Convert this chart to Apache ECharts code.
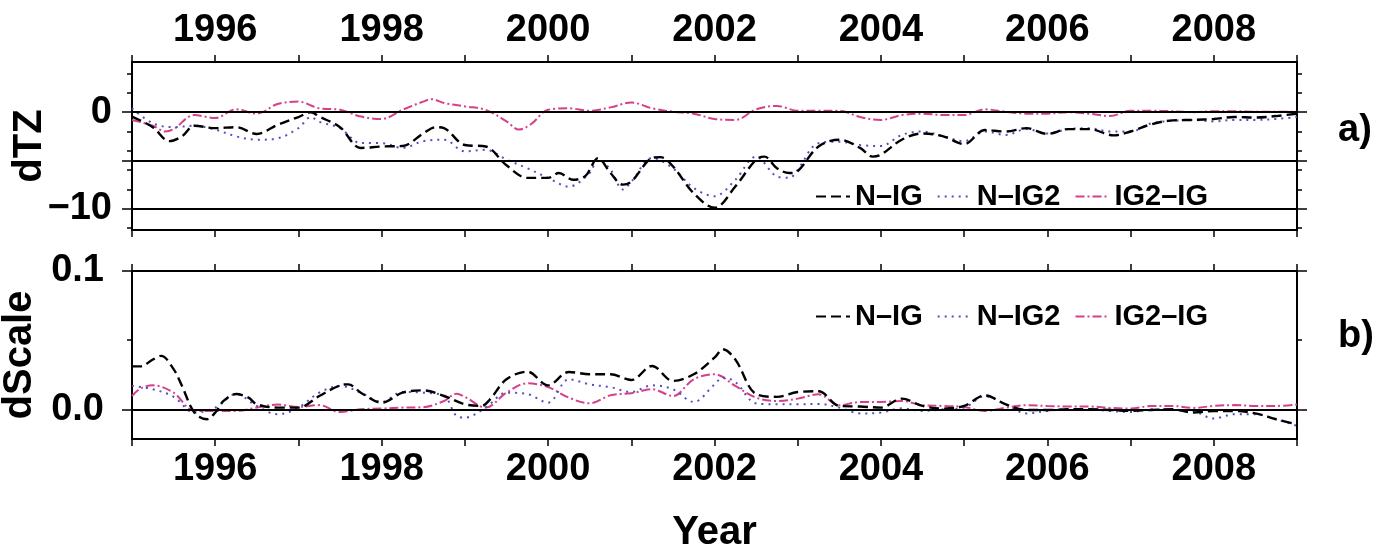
<!DOCTYPE html>
<html><head><meta charset="utf-8">
<script src="https://cdn.jsdelivr.net/npm/echarts@6/dist/echarts.min.js"></script>
<style>html,body{margin:0;padding:0;background:#fff}#c{width:1379px;height:546px}</style>
</head><body><div id="c"></div>
<script>
// ---- data (year, value) ----
const seriesNames = ['N–IG', 'N–IG2', 'IG2–IG'];
const xTickYears = [1995,1996,1997,1998,1999,2000,2001,2002,2003,2004,2005,2006,2007,2008,2009];
const xLabelYears = [1996,1998,2000,2002,2004,2006,2008];
const dtzTickLabels = [0, -10];
const dscaleTickLabels = [0, 0.1];

const dtzNIG = [[1995.0,-0.45],[1995.25,-1.55],[1995.45,-3.0],[1995.6,-2.5],[1995.75,-1.4],[1996.0,-1.65],[1996.25,-1.55],[1996.5,-2.25],[1996.75,-1.3],[1997.0,-0.5],[1997.15,0],[1997.25,-0.45],[1997.5,-1.55],[1997.75,-3.7],[1998.0,-3.55],[1998.25,-3.5],[1998.5,-2.2],[1998.65,-1.55],[1998.75,-1.65],[1999.0,-3.4],[1999.25,-3.55],[1999.5,-5.5],[1999.75,-6.8],[2000.0,-6.8],[2000.13,-6.3],[2000.3,-7.0],[2000.45,-6.6],[2000.6,-4.75],[2000.75,-6.3],[2000.9,-7.5],[2001.0,-7.2],[2001.25,-4.75],[2001.35,-4.65],[2001.5,-5.6],[2001.75,-8.4],[2002.0,-9.9],[2002.25,-7.7],[2002.5,-4.9],[2002.6,-4.6],[2002.75,-5.8],[2002.9,-6.3],[2003.0,-6.1],[2003.25,-3.55],[2003.5,-2.85],[2003.75,-3.7],[2003.9,-4.6],[2004.0,-4.4],[2004.25,-2.85],[2004.5,-2.2],[2004.75,-2.5],[2005.0,-3.3],[2005.25,-1.85],[2005.5,-2.0],[2005.75,-1.65],[2006.0,-2.25],[2006.25,-1.75],[2006.5,-1.75],[2006.8,-2.4],[2007.0,-2.0],[2007.25,-1.25],[2007.5,-0.85],[2007.75,-0.8],[2008.0,-0.7],[2008.25,-0.5],[2008.5,-0.55],[2008.75,-0.4],[2009.0,-0.15]];
const dtzNIG2 = [[1995.0,0.4],[1995.25,-1.15],[1995.5,-1.55],[1995.75,-1.4],[1996.0,-1.8],[1996.25,-2.5],[1996.5,-2.85],[1996.75,-2.7],[1997.0,-1.65],[1997.15,-0.5],[1997.25,-1.0],[1997.5,-1.65],[1997.75,-3.2],[1998.0,-3.2],[1998.25,-3.7],[1998.5,-3.0],[1998.75,-2.85],[1999.0,-4.05],[1999.25,-3.9],[1999.5,-4.9],[1999.75,-5.8],[2000.0,-6.8],[2000.25,-7.7],[2000.5,-6.3],[2000.6,-4.9],[2000.75,-5.95],[2000.9,-8.0],[2001.0,-7.2],[2001.25,-4.75],[2001.5,-5.8],[2001.75,-7.85],[2002.0,-8.7],[2002.25,-7.0],[2002.5,-4.6],[2002.75,-6.65],[2002.9,-6.8],[2003.0,-5.95],[2003.25,-3.2],[2003.5,-3.05],[2003.75,-3.4],[2004.0,-3.5],[2004.25,-2.35],[2004.5,-2.0],[2004.75,-2.5],[2005.0,-3.0],[2005.25,-2.0],[2005.5,-2.35],[2005.75,-1.75],[2006.0,-2.2],[2006.25,-1.75],[2006.5,-1.65],[2006.75,-2.0],[2007.0,-2.0],[2007.25,-1.15],[2007.5,-0.9],[2007.75,-0.8],[2008.0,-0.95],[2008.25,-0.8],[2008.5,-0.8],[2008.75,-0.7],[2009.0,-0.5]];
const dtzIG2IG = [[1995.0,-0.8],[1995.25,-1.4],[1995.4,-2.0],[1995.5,-1.75],[1995.75,-0.3],[1996.0,-0.6],[1996.25,0.3],[1996.5,-0.15],[1996.75,0.85],[1997.0,1.1],[1997.25,0.4],[1997.5,0.25],[1997.75,-0.45],[1998.0,-0.7],[1998.25,0.25],[1998.5,1.1],[1998.6,1.35],[1998.75,0.95],[1999.0,0.6],[1999.25,0.25],[1999.5,-0.95],[1999.65,-1.8],[1999.8,-1.2],[2000.0,0.25],[2000.25,0.4],[2000.5,0.15],[2000.75,0.5],[2001.0,1.0],[2001.25,0.4],[2001.5,0.05],[2001.75,-0.15],[2002.0,-0.7],[2002.25,-0.8],[2002.5,0.3],[2002.75,0.65],[2003.0,0.15],[2003.25,0.15],[2003.5,0.15],[2003.75,-0.5],[2004.0,-0.8],[2004.25,-0.3],[2004.5,-0.15],[2004.75,-0.3],[2005.0,-0.3],[2005.25,0.3],[2005.5,0.05],[2005.75,-0.15],[2006.0,-0.15],[2006.25,0.0],[2006.5,-0.15],[2006.75,-0.4],[2007.0,0.15],[2007.25,0.15],[2007.5,0.1],[2007.75,0.0],[2008.0,0.1],[2008.25,0.1],[2008.5,0.05],[2008.75,0.05],[2009.0,0.05]];

const dsNIG = [[1995.0,0.031],[1995.1,0.031],[1995.25,0.036],[1995.35,0.0386],[1995.5,0.029],[1995.6,0.017],[1995.75,-0.0024],[1995.9,-0.0072],[1996.0,-0.0024],[1996.1,0.006],[1996.25,0.011],[1996.4,0.0084],[1996.5,0.0036],[1996.75,0.0012],[1997.0,0.0012],[1997.25,0.0096],[1997.5,0.0173],[1997.6,0.018],[1997.75,0.012],[1998.0,0.0048],[1998.25,0.012],[1998.5,0.0137],[1998.75,0.0096],[1999.0,0.0036],[1999.2,0.0024],[1999.3,0.007],[1999.5,0.0217],[1999.75,0.0272],[2000.0,0.0173],[2000.25,0.027],[2000.5,0.0253],[2000.75,0.0253],[2001.0,0.0212],[2001.25,0.0313],[2001.5,0.0205],[2001.75,0.0253],[2002.0,0.0373],[2002.1,0.0434],[2002.25,0.036],[2002.5,0.011],[2002.75,0.009],[2003.0,0.0125],[2003.25,0.013],[2003.5,0.0024],[2003.75,0.002],[2004.0,0.0012],[2004.25,0.0077],[2004.5,0.0024],[2004.75,0.0005],[2005.0,0.0024],[2005.25,0.010],[2005.5,0.0036],[2005.75,-0.0005],[2006.0,-0.0005],[2006.25,0.0],[2006.5,0.0],[2006.75,-0.0005],[2007.0,-0.0012],[2007.25,-0.0005],[2007.5,0.0],[2007.75,-0.0024],[2008.0,-0.0012],[2008.25,-0.0012],[2008.5,-0.003],[2008.75,-0.0072],[2009.0,-0.011]];
const dsNIG2 = [[1995.0,0.0169],[1995.25,0.0145],[1995.5,0.009],[1995.75,-0.0024],[1996.0,0.0012],[1996.25,0.011],[1996.5,0.0024],[1996.75,-0.0036],[1997.0,0.0012],[1997.25,0.012],[1997.5,0.0169],[1997.75,0.012],[1998.0,0.0053],[1998.25,0.0125],[1998.5,0.012],[1998.75,0.0096],[1998.9,-0.0048],[1999.0,-0.006],[1999.25,0.0012],[1999.5,0.012],[1999.75,0.011],[2000.0,0.0048],[2000.25,0.0217],[2000.5,0.018],[2000.75,0.016],[2001.0,0.0125],[2001.25,0.0173],[2001.5,0.0145],[2001.75,0.0053],[2002.0,0.018],[2002.1,0.0229],[2002.25,0.0198],[2002.5,0.0043],[2002.75,0.0036],[2003.0,0.0036],[2003.25,0.0039],[2003.5,0.0012],[2003.75,-0.003],[2004.0,-0.0024],[2004.25,0.0007],[2004.5,-0.0012],[2004.75,0.0],[2005.0,0.0012],[2005.25,0.0096],[2005.5,0.0036],[2005.75,-0.003],[2006.0,-0.0012],[2006.25,0.0],[2006.5,0.0],[2006.75,-0.0012],[2007.0,-0.002],[2007.25,0.0],[2007.5,-0.0005],[2007.75,-0.0012],[2008.0,-0.0067],[2008.25,-0.0036],[2008.5,-0.0036],[2008.75,-0.0072],[2009.0,-0.012]];
const dsIG2IG = [[1995.0,0.0096],[1995.1,0.015],[1995.25,0.0173],[1995.5,0.012],[1995.75,-0.0012],[1996.0,-0.0012],[1996.25,-0.0012],[1996.5,0.0012],[1996.75,0.0034],[1997.0,0.0017],[1997.25,0.003],[1997.5,-0.002],[1997.75,0.0],[1998.0,0.0005],[1998.25,0.0012],[1998.5,0.0015],[1998.75,0.006],[1998.9,0.0113],[1999.0,0.009],[1999.25,0.0012],[1999.5,0.012],[1999.75,0.0188],[2000.0,0.016],[2000.25,0.0084],[2000.5,0.0043],[2000.75,0.0101],[2001.0,0.0116],[2001.25,0.0145],[2001.5,0.0096],[2001.75,0.0217],[2002.0,0.0253],[2002.25,0.0169],[2002.5,0.0084],[2002.75,0.006],[2003.0,0.0077],[2003.25,0.0108],[2003.5,0.0029],[2003.75,0.0053],[2004.0,0.0053],[2004.25,0.006],[2004.5,0.0029],[2004.75,0.0024],[2005.0,0.0017],[2005.25,-0.0012],[2005.5,0.0012],[2005.75,0.003],[2006.0,0.0024],[2006.25,0.002],[2006.5,0.002],[2006.75,0.001],[2007.0,0.0005],[2007.25,0.0024],[2007.5,0.0024],[2007.75,0.001],[2008.0,0.0024],[2008.25,0.003],[2008.5,0.0024],[2008.75,0.0024],[2009.0,0.0034]];

// ---- styles ----
const FONT = "'Liberation Sans', Arial, Helvetica, sans-serif";
const colors = ['#000000', '#5050c0', '#d6408a'];
const dashes = [[10, 5], [2, 5], [9, 3, 2, 3]];
const widths = [2.4, 2, 2];
const axisLine = { show: true, onZero: false, lineStyle: { color: '#000', width: 2 } };
const tickStyle = { color: '#000', width: 1.5 };
const G = [{ top: 62, height: 168 }, { top: 271, height: 168 }];

function xAxes(grid, pos, labels, name) {
  return {
    type: 'value', gridIndex: grid, position: pos, min: 1995, max: 2009, interval: 1,
    axisLine, splitLine: { show: false },
    axisTick: { show: true, length: 7, inside: false, lineStyle: tickStyle, customValues: xTickYears },
    axisLabel: labels ? { show: true, customValues: xLabelYears, formatter: v => String(Math.round(v)), margin: 12, fontFamily: FONT, fontWeight: 'bold', fontSize: 38, color: '#000' } : { show: false },
    name: name || '', nameLocation: 'middle', nameGap: 74,
    nameTextStyle: { fontFamily: FONT, fontWeight: 'bold', fontSize: 40, color: '#000' }
  };
}
function yAxis(grid, pos, min, max, ticks, len, labels, fmt, name, nameGap, margin) {
  return {
    type: 'value', gridIndex: grid, position: pos, min, max,
    axisLine, splitLine: { show: false },
    axisTick: { show: true, length: len, inside: false, lineStyle: tickStyle, customValues: ticks },
    axisLabel: labels ? { show: true, customValues: labels, formatter: fmt, margin: margin, fontFamily: FONT, fontWeight: 'bold', fontSize: 38, color: '#000' } : { show: false },
    name: name || '', nameLocation: 'middle', nameRotate: 90, nameGap: nameGap || 0,
    nameTextStyle: { fontFamily: FONT, fontWeight: 'bold', fontSize: 40, color: '#000' }
  };
}
const dtzMinor = [-12, -10, -8, -6, -4, -2, 0, 2, 4];
const dtzMajor = [-10, -5, 0];
const dsMinor = [0.05];
const dsMajor = [0, 0.1];
const fmtDtz = v => (v === 0 ? '0' : '\u2212' + Math.abs(v));
const fmtDs = v => v.toFixed(1);

function line(name, data, k, xi, yi, mark) {
  const s = {
    name, type: 'line', data, xAxisIndex: xi, yAxisIndex: yi, symbol: 'none', smooth: 0.35,
    lineStyle: { color: colors[k], width: widths[k], type: dashes[k] }, itemStyle: { color: colors[k] },
    z: 5 - k
  };
  if (mark) s.markLine = { silent: true, symbol: 'none', label: { show: false }, lineStyle: { color: '#000', type: 'solid', width: 2 }, data: mark.map(v => ({ yAxis: v })) };
  return s;
}
const legendBase = {
  data: seriesNames, itemWidth: 34, itemHeight: 14, itemGap: 14,
  itemStyle: { color: 'rgba(0,0,0,0)', borderColor: 'rgba(0,0,0,0)', borderWidth: 0, opacity: 0 },
  textStyle: { fontFamily: FONT, fontWeight: 'bold', fontSize: 29, color: '#000' }, selectedMode: false
};

const option = {
  animation: false,
  backgroundColor: '#fff',
  grid: [
    { left: 132, right: 82, top: G[0].top, height: G[0].height, outerBoundsMode: 'none', containLabel: false },
    { left: 132, right: 82, top: G[1].top, height: G[1].height, outerBoundsMode: 'none', containLabel: false }
  ],
  xAxis: [
    xAxes(0, 'top', true),
    xAxes(0, 'bottom', false),
    xAxes(1, 'bottom', true, 'Year'),
    xAxes(1, 'top', false)
  ],
  yAxis: [
    yAxis(0, 'left', -12.2, 5.2, dtzMinor, 5, null, null, 'dTZ', 82),
    yAxis(0, 'left', -12.2, 5.2, dtzMajor, 10, dtzTickLabels, fmtDtz, '', 0, 20),
    yAxis(0, 'right', -12.2, 5.2, dtzMinor, 5, null),
    yAxis(0, 'right', -12.2, 5.2, dtzMajor, 10, null),
    yAxis(1, 'left', -0.0215, 0.1, dsMinor, 5, null, null, 'dScale', 92),
    yAxis(1, 'left', -0.0215, 0.1, dsMajor, 10, dscaleTickLabels, fmtDs, '', 0, 28),
    yAxis(1, 'right', -0.0215, 0.1, dsMinor, 5, null),
    yAxis(1, 'right', -0.0215, 0.1, dsMajor, 10, null)
  ],
  legend: [
    Object.assign({}, legendBase, { left: 810, top: 177 }),
    Object.assign({}, legendBase, { left: 810, top: 297 })
  ],
  graphic: [
    { type: 'text', left: 1338, top: 112, style: { text: 'a)', fontFamily: FONT, fontWeight: 'bold', fontSize: 38, fill: '#000' } },
    { type: 'text', left: 1338, top: 318, style: { text: 'b)', fontFamily: FONT, fontWeight: 'bold', fontSize: 38, fill: '#000' } }
  ],
  series: [
    line(seriesNames[0], dtzNIG, 0, 0, 0, [0, -5, -10]),
    line(seriesNames[1], dtzNIG2, 1, 0, 0),
    line(seriesNames[2], dtzIG2IG, 2, 0, 0),
    line(seriesNames[0], dsNIG, 0, 2, 4, [0]),
    line(seriesNames[1], dsNIG2, 1, 2, 4),
    line(seriesNames[2], dsIG2IG, 2, 2, 4)
  ]
};
const chart = echarts.init(document.getElementById('c'), null, { renderer: 'canvas' });
chart.setOption(option);
</script></body></html>
